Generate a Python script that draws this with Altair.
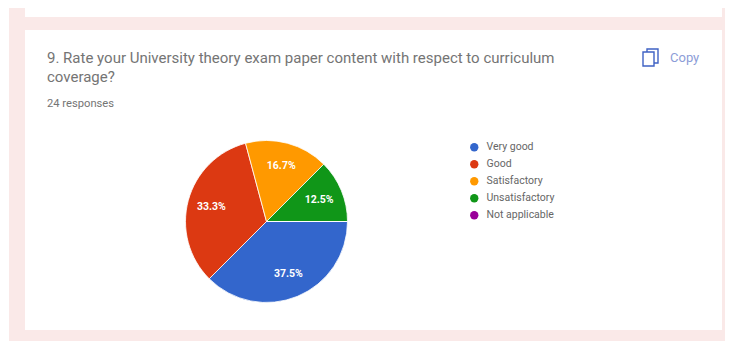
import altair as alt
import pandas as pd

categories = ["Very good", "Good", "Satisfactory", "Unsatisfactory", "Not applicable"]
responses = [9, 8, 4, 3, 0]
shares = ["37.5%", "33.3%", "16.7%", "12.5%", ""]
colors = ["#3366cc", "#dc3912", "#ff9900", "#109618", "#990099"]

df = pd.DataFrame({
    "category": categories,
    "responses": responses,
    "share": shares,
    "rank": list(range(len(categories))),
})

blank = alt.Data(values=[{"a": 1}])
OX, OY = 8, 8


def box(x0, y0, x1, y1, fill):
    return alt.Chart(blank).mark_rect(fill=fill).encode(
        x=alt.value(x0 - OX), x2=alt.value(x1 - OX),
        y=alt.value(y0 - OY), y2=alt.value(y1 - OY),
    )


def outline(x0, y0, x1, y1, stroke):
    return alt.Chart(blank).mark_rect(fill="#ffffff", stroke=stroke, strokeWidth=1.4).encode(
        x=alt.value(x0 - OX), x2=alt.value(x1 - OX),
        y=alt.value(y0 - OY), y2=alt.value(y1 - OY),
    )


def label(txt, x, y, size, color, **kw):
    return alt.Chart(blank).mark_text(
        text=txt, align="left", baseline="middle", font="Roboto",
        fontSize=size, color=color, opacity=0.9, **kw
    ).encode(x=alt.value(x - OX), y=alt.value(y - OY))


theta = alt.Theta("responses:Q", stack=True,
                  scale=alt.Scale(range=[1.5708, 7.854]))
order = alt.Order("rank:Q")
color = alt.Color(
    "category:N",
    scale=alt.Scale(domain=categories, range=colors),
    sort=categories,
    legend=alt.Legend(
        title=None, orient="none", legendX=461, legendY=134,
        symbolType="circle", symbolSize=70, symbolStrokeWidth=0,
        labelFont="Roboto", labelFontSize=10.5, labelColor="#666666",
        rowPadding=6, labelOffset=7, labelLimit=120,
    ),
)
center = dict(x=alt.value(266.5 - OX), y=alt.value(221.5 - OY))

pie = alt.Chart(df).mark_arc(outerRadius=81, stroke="#ffffff", strokeWidth=0.8).encode(
    theta=theta, color=color, order=order, **center
)
pct = alt.Chart(df).mark_text(
    radius=57, font="Roboto", fontSize=10.5, color="#ffffff", fontWeight="bold"
).encode(theta=theta, text="share:N", order=order, **center)

chart = alt.layer(
    box(9, 8, 725, 341, "#fae9e8"),
    box(25, 8, 722, 17, "#ffffff"),
    box(25, 30, 722, 330, "#ffffff"),
    label("9. Rate your University theory exam paper content with respect to curriculum", 47, 58, 15, "#666666"),
    label("coverage?", 47, 77, 15, "#666666"),
    label("24 responses", 47, 104, 11.2, "#666666"),
    outline(647, 49, 658, 63, "#3f62c4"),
    outline(643, 52, 654, 66, "#3f62c4"),
    label("Copy", 670, 58, 13, "#7f93d4"),
    pie,
    pct,
).properties(
    width=717, height=333, padding=0,
    autosize=alt.AutoSizeParams(type="none"),
    background="#ffffff",
).configure_view(stroke=None)

chart.save("out.html", embed_options={"renderer": "svg", "actions": False})
